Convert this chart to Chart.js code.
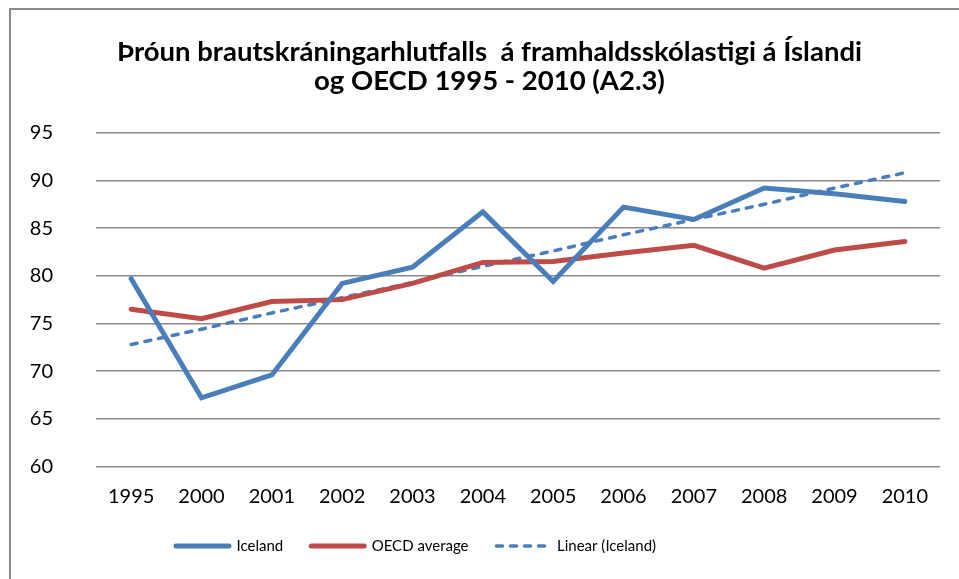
<!DOCTYPE html>
<html>
<head>
<meta charset="utf-8">
<script src="https://cdn.jsdelivr.net/npm/chart.js@4"></script>
<style>
  html, body { margin: 0; padding: 0; background: #fff; }
  #wrap { width: 959px; height: 579px; }
</style>
</head>
<body>
<div id="wrap"><canvas id="chart" width="959" height="579"></canvas></div>
<script>
const years = ['1995', '2000', '2001', '2002', '2003', '2004', '2005', '2006', '2007', '2008', '2009', '2010']
const iceland = [79.7, 67.2, 69.6, 79.2, 80.9, 86.7, 79.4, 87.2, 85.9, 89.2, 88.6, 87.8]
const oecd = [76.5, 75.5, 77.3, 77.5, 79.2, 81.4, 81.5, 82.4, 83.2, 80.8, 82.7, 83.6]
const linearIceland = [72.8, 74.4, 76.1, 77.7, 79.3, 81.0, 82.6, 84.3, 85.9, 87.5, 89.2, 90.8]
const yTicks = [60, 65, 70, 75, 80, 85, 90, 95]

const FONT = 'Lato, "Open Sans", sans-serif'

// grey frame around the chart (runs off the right and bottom edge)
const framePlugin = {
  id: 'frame',
  beforeDraw(chart) {
    const ctx = chart.ctx
    ctx.save()
    ctx.strokeStyle = '#8a8a8a'
    ctx.lineWidth = 2
    ctx.strokeRect(10, 9, 1000, 700)
    ctx.restore()
  }
}

// title is a bit right of centre and the legend left of centre in the original
const blockShift = {
  id: 'blockShift',
  afterLayout(chart) {
    const t = chart.titleBlock
    t.left += 19.5
    t.right += 19.5
    const l = chart.legend
    const dx = 148 - l.left
    l.left += dx
    l.right += dx
  }
}

new Chart(document.getElementById('chart'), {
  type: 'line',
  data: {
    labels: years,
    datasets: [
      {
        label: 'Iceland',
        data: iceland,
        borderColor: '#4a7ebb',
        backgroundColor: '#4a7ebb',
        borderWidth: 5,
        borderCapStyle: 'round',
        pointRadius: 0,
        tension: 0
      },
      {
        label: 'OECD average',
        data: oecd,
        borderColor: '#be4b48',
        backgroundColor: '#be4b48',
        borderWidth: 5,
        borderCapStyle: 'round',
        pointRadius: 0,
        tension: 0
      },
      {
        label: 'Linear (Iceland)',
        data: linearIceland,
        borderColor: '#4a7ebb',
        backgroundColor: '#4a7ebb',
        borderWidth: 3.5,
        borderDash: [6, 8],
        borderCapStyle: 'round',
        pointRadius: 0,
        tension: 0
      }
    ]
  },
  options: {
    responsive: false,
    animation: false,
    layout: { padding: { left: 0, right: 19, top: 0, bottom: 15.5 } },
    plugins: {
      title: {
        display: true,
        text: ['Þróun brautskráningarhlutfalls  á framhaldsskólastigi á Íslandi', 'og OECD 1995 - 2010 (A2.3)'],
        color: '#000',
        font: { family: FONT, size: 27.5, weight: 'bold', lineHeight: 1.05 },
        padding: { top: 38, bottom: 37 }
      },
      legend: {
        position: 'bottom',
        align: 'start',
        labels: {
          usePointStyle: true,
          pointStyle: 'line',
          pointStyleWidth: 53,
          boxHeight: 15,
          padding: 28,
          color: '#000',
          font: { family: FONT, size: 15 },
          generateLabels(chart) {
            const items = Chart.defaults.plugins.legend.labels.generateLabels(chart)
            return items.map(item => {
              const ds = chart.data.datasets[item.datasetIndex]
              item.lineDash = ds.borderDash || []
              item.lineWidth = ds.borderWidth
              item.lineCap = 'round'
              return item
            })
          }
        }
      },
      tooltip: { enabled: false }
    },
    scales: {
      x: {
        offset: true,
        grid: { display: false, drawTicks: false, offset: true },
        border: { display: false },
        afterFit(scale) {
          scale.height = 44
        },
        ticks: {
          color: '#000',
          padding: 18,
          maxRotation: 0,
          font: { family: FONT, size: 20 }
        }
      },
      y: {
        min: 60,
        max: 95,
        afterBuildTicks(scale) {
          scale.ticks = yTicks.map(v => ({ value: v }))
        },
        afterFit(scale) {
          scale.width = 96
        },
        grid: { color: '#8a8a8a', lineWidth: 1.5, drawTicks: false },
        border: { display: false },
        ticks: {
          color: '#000',
          padding: 43,
          font: { family: FONT, size: 20 }
        }
      }
    }
  },
  plugins: [framePlugin, blockShift]
})
</script>
</body>
</html>
